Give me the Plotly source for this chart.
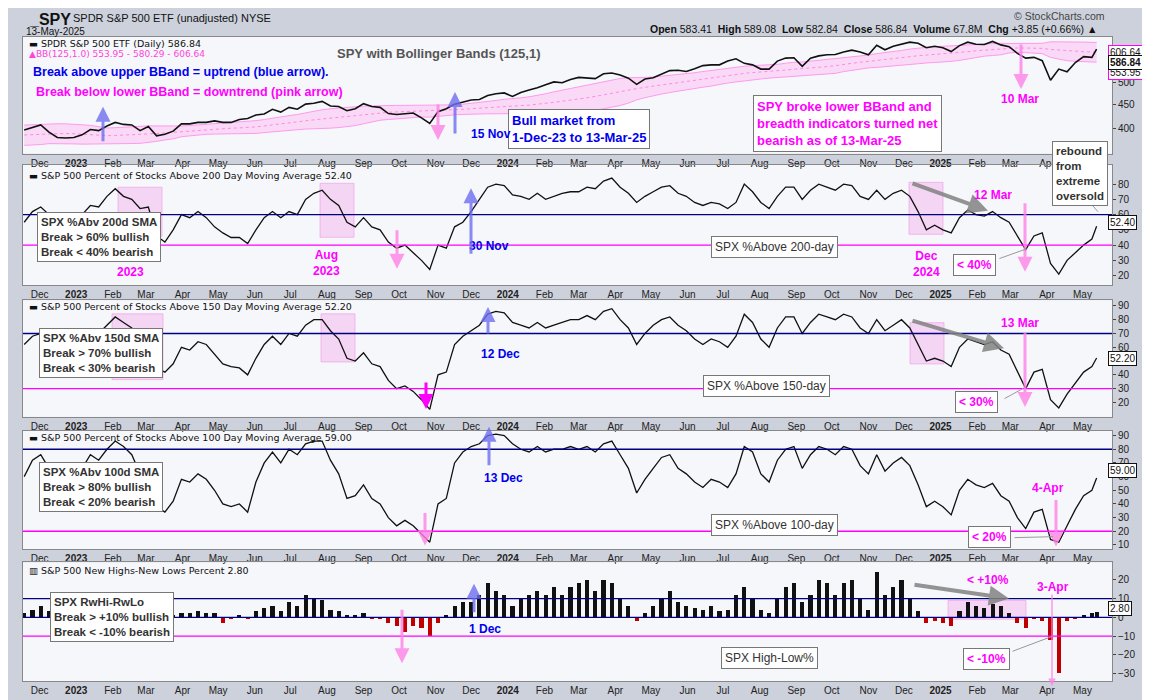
import pandas as pd
import plotly.graph_objects as go

# weekly closes, Nov-2022 .. 13-May-2025 (last point is the 13 May session)
dates = list(pd.date_range("2022-11-18", "2025-05-09", freq="W-FRI")) + [pd.Timestamp("2025-05-13")]

# SPY closes before the plotted window, only used to warm up the bands
spy_warmup = [390, 375, 366, 380, 385, 395, 412, 413, 429, 422, 405, 392,
              400, 385, 375, 358, 360, 367, 358, 374, 386, 378, 393, 398]
spy = [397, 402, 407, 393, 383, 382, 383,
       388, 398, 396, 405, 412, 408, 407, 396, 404, 386, 389, 395, 409,
       409, 412, 412, 415, 412, 412, 418, 420, 427, 429, 439, 433, 443,
       439, 450, 452, 456, 446, 445, 436, 440, 451, 445, 443, 430, 428,
       430, 431, 421, 410, 434, 440, 450, 455, 459, 460, 469, 473, 475,
       467, 476, 482, 487, 494, 501, 499, 507, 512, 511, 509, 521, 523,
       518, 510, 495, 508, 511, 520, 529, 530, 527, 534, 542, 544, 544,
       554, 560, 548, 544, 533, 533, 554, 562, 563, 540, 562, 568, 571,
       572, 579, 584, 579, 571, 598, 585, 595, 602, 607, 604, 591, 595,
       591, 580, 597, 607, 601, 600, 609, 599, 594, 575, 562, 564, 555,
       505, 533, 526, 550, 566, 564, 586.84]

pct200 = [55, 62, 65, 60, 52, 54, 55,
          60, 66, 65, 72, 77, 72, 70, 64, 65, 46, 42, 50, 60,
          58, 62, 58, 52, 48, 45, 45, 41, 50, 58, 62, 58, 62,
          60, 70, 74, 76, 70, 66, 55, 52, 58, 52, 50, 42, 38,
          40, 35, 30, 24, 40, 38, 52, 55, 62, 70, 78, 80, 79,
          73, 72, 70, 74, 70, 72, 74, 75, 75, 78, 77, 82, 84,
          78, 74, 68, 72, 75, 78, 79, 74, 72, 68, 66, 68, 67,
          64, 68, 80, 75, 68, 64, 72, 78, 78, 70, 76, 80, 78,
          76, 80, 79, 72, 70, 76, 70, 74, 76, 72, 62, 50, 53,
          50, 48, 58, 63, 60, 59, 62, 58, 55, 46, 37, 46, 48,
          28, 21, 30, 35, 40, 44, 52.4]

pct150 = [62, 68, 70, 62, 52, 55, 58,
          65, 72, 70, 76, 82, 78, 74, 64, 68, 45, 42, 48, 60,
          58, 64, 62, 55, 48, 46, 45, 40, 52, 62, 68, 62, 70,
          68, 76, 80, 80, 72, 66, 52, 50, 56, 48, 46, 36, 30,
          32, 28, 22, 15, 40, 42, 62, 68, 72, 76, 84, 86, 85,
          78, 76, 74, 78, 74, 76, 78, 80, 80, 83, 80, 86, 88,
          80, 74, 62, 70, 76, 80, 82, 76, 72, 66, 62, 66, 64,
          60, 68, 84, 78, 66, 60, 74, 82, 82, 70, 78, 84, 82,
          80, 84, 82, 74, 70, 80, 72, 76, 80, 74, 62, 50, 52,
          50, 46, 60, 66, 64, 62, 64, 58, 55, 42, 30, 42, 44,
          22, 16, 26, 34, 42, 46, 52.2]

pct100 = [60, 72, 76, 66, 50, 54, 56,
          66, 76, 72, 80, 86, 82, 76, 62, 66, 38, 34, 42, 58,
          56, 62, 58, 50, 40, 38, 40, 34, 56, 70, 78, 70, 80,
          76, 84, 86, 86, 72, 62, 44, 46, 54, 44, 40, 30, 24,
          28, 24, 18, 12, 40, 44, 70, 78, 82, 84, 90, 91, 90,
          84, 80, 78, 82, 78, 80, 80, 82, 80, 82, 78, 84, 86,
          76, 66, 48, 58, 66, 74, 76, 66, 62, 56, 52, 58, 56,
          52, 62, 82, 78, 62, 56, 72, 80, 82, 66, 76, 82, 80,
          76, 82, 80, 68, 62, 76, 64, 70, 74, 68, 54, 38, 42,
          38, 32, 50, 58, 54, 52, 55, 46, 42, 30, 22, 34, 36,
          14, 12, 24, 36, 46, 50, 59]

hilo = [2, 4, 6, 3, 1, 2, 1,
        2, 4, 3, 4, 6, 3, 3, -1, 1, -4, -2, 1, 2,
        2, 3, 2, 2, -3, -1, 1, -1, 3, 5, 6, 3, 8,
        6, 12, 10, 9, 4, 3, 1, 1, 2, -1, -1, -3, -5,
        -8, -5, -6, -10, -3, 1, 6, 8, 8, 12, 18, 14, 12,
        6, 10, 12, 14, 12, 16, 12, 16, 18, 20, 14, 20, 18,
        10, 6, -2, 2, 6, 10, 14, 8, 6, 5, 4, 6, 3,
        4, 12, 16, 10, 4, 2, 10, 16, 18, 8, 12, 20, 18,
        12, 18, 20, 10, 4, 24, 12, 16, 20, 10, 3, -3, -2,
        -3, -5, 3, 8, 6, 5, 7, 6, 2, -3, -6, -1, -2,
        -12, -30, -2, -1, 1, 2, 2.8]

for s in (spy, pct200, pct150, pct100, hilo):
    assert len(s) == len(dates), (len(s), len(dates))

# Bollinger Bands (125 days ~ 25 weeks, 1 std)
closes = pd.Series(spy_warmup + spy)
mid = closes.rolling(25).mean().iloc[len(spy_warmup):].values
sd = closes.rolling(25).std(ddof=0).iloc[len(spy_warmup):].values
upper = mid + sd
lower = mid - sd

# pixel helpers (plot area spans x 15..1104, y 29..685)
def P(x, y):
    return (x - 15) / 1089, (685 - y) / 656

panels = [(29, 148), (159, 282), (297, 416), (430, 551), (564, 685)]
yranges = [[2.549, 2.794], [13.6, 92.8], [9.5, 94.2], [6.7, 93.6], [-34, 29.4]]
ytickv = [[400, 450, 500], list(range(20, 90, 10)), list(range(20, 100, 10)),
          list(range(10, 100, 10)), [-30, -20, -10, 0, 10, 20]]

months = pd.date_range("2022-12-01", "2025-05-01", freq="MS")
ticktext = ["<b>%d</b>" % m.year if m.month == 1 else m.strftime("%b") for m in months]
xrange_ = ["2022-11-17", "2025-05-26"]

fig = go.Figure()
BLACK = "#111111"
MAG = "#ff00ff"
BLUE = "#0000ee"
NAVY = "#000080"

# panel 1
fig.add_trace(go.Scatter(x=dates, y=upper, mode="lines", line=dict(color="#ff99ee", width=1),
                         xaxis="x", yaxis="y", hoverinfo="skip"))
fig.add_trace(go.Scatter(x=dates, y=lower, mode="lines", line=dict(color="#ff99ee", width=1),
                         fill="tonexty", fillcolor="rgba(255,160,235,0.35)",
                         xaxis="x", yaxis="y", hoverinfo="skip"))
fig.add_trace(go.Scatter(x=dates, y=mid, mode="lines", line=dict(color="#ff88e8", width=1, dash="dot"),
                         xaxis="x", yaxis="y", hoverinfo="skip"))
fig.add_trace(go.Scatter(x=dates, y=spy, mode="lines", line=dict(color=BLACK, width=1.6),
                         xaxis="x", yaxis="y"))

for i, s in enumerate([pct200, pct150, pct100], start=2):
    fig.add_trace(go.Scatter(x=dates, y=s, mode="lines", line=dict(color=BLACK, width=1.3),
                             xaxis="x%d" % i, yaxis="y%d" % i))

fig.add_trace(go.Bar(x=dates, y=hilo, width=3.5 * 86400000,
                     marker=dict(color=["#c00000" if v < 0 else "#111111" for v in hilo], line_width=0),
                     xaxis="x5", yaxis="y5"))

layout = dict(
    width=1150, height=700, showlegend=False, bargap=0,
    paper_bgcolor="#cdd1dc", plot_bgcolor="#f6f7fb",
    margin=dict(l=15, r=46, t=29, b=15),
    font=dict(family="Liberation Sans, Arial", size=11, color="#222"),
)
for i, (top, bot) in enumerate(panels, start=1):
    d0 = (685 - bot) / 656
    d1 = (685 - top) / 656
    sx = "" if i == 1 else str(i)
    layout["xaxis" + sx] = dict(domain=[0, 1], anchor="y" + sx, range=xrange_, tickvals=months,
                                ticktext=ticktext, tickfont=dict(size=10), ticks="",
                                showgrid=False, showline=True, mirror=True,
                                linecolor="#888", zeroline=False)
    layout["yaxis" + sx] = dict(domain=[d0, d1], anchor="x" + sx, side="right", range=yranges[i - 1],
                                tickvals=ytickv[i - 1], tickfont=dict(size=10), showgrid=False,
                                showline=True, mirror=True, linecolor="#888", zeroline=False,
                                ticks="outside", ticklen=3)
layout["yaxis"]["type"] = "log"
fig.update_layout(**layout)

# threshold lines
for ax, navy, mag in [("2", [60], 40), ("3", [70], 30), ("4", [80], 20), ("5", [10, 0], -10)]:
    for v in navy:
        fig.add_shape(type="line", xref="x%s domain" % ax, yref="y" + ax, x0=0, x1=1, y0=v, y1=v,
                      line=dict(color=NAVY, width=1.3))
    fig.add_shape(type="line", xref="x%s domain" % ax, yref="y" + ax, x0=0, x1=1, y0=mag, y1=mag,
                  line=dict(color=MAG, width=1.3))

# highlight boxes
def rect(x0, y0, x1, y1):
    a0, b0 = P(x0, y0)
    a1, b1 = P(x1, y1)
    fig.add_shape(type="rect", xref="paper", yref="paper", x0=a0, x1=a1, y0=b1, y1=b0,
                  fillcolor="rgba(240,150,230,0.35)", line=dict(color="rgba(240,150,230,0.6)", width=1),
                  layer="below")

for r in [(110, 182, 154, 232), (312, 178, 346, 233), (901, 177, 935, 230),
          (104, 311, 155, 378), (313, 311, 347, 360), (902, 320, 936, 362),
          (940, 603, 1018, 622)]:
    rect(*r)

def note(x, y, text, color="#333", size=12, bold=True, box=False, xanchor="left", yanchor="middle",
         align="left", family=None):
    a, b = P(x, y)
    fig.add_annotation(x=a, y=b, xref="paper", yref="paper", text="<b>%s</b>" % text if bold else text,
                       showarrow=False, xanchor=xanchor, yanchor=yanchor, align=align,
                       font=dict(size=size, color=color, family=family),
                       bgcolor="white" if box else None, bordercolor="#777" if box else None,
                       borderwidth=1 if box else 0, borderpad=3)

def arrow(xh, yh, xt, yt, color, width=3, head=2, size=1.0):
    a, b = P(xh, yh)
    fig.add_annotation(x=a, y=b, xref="paper", yref="paper", ax=xt - xh, ay=yt - yh, text="",
                       showarrow=True, arrowhead=head, arrowsize=size, arrowwidth=width,
                       arrowcolor=color)

# header
note(18, 11, "_SPY", "#111", 16, xanchor="left")
note(62, 10, "SPDR S&P 500 ETF (unadjusted) NYSE", "#111", 11, bold=False)
note(15, 23, "13-May-2025", "#111", 10, bold=False)
note(1100, 8, "© StockCharts.com", "#444", 10.5, bold=False, xanchor="right")
note(1092, 21, "<b>Open</b> 583.41  <b>High</b> 589.08  <b>Low</b> 582.84  <b>Close</b> 586.84  "
     "<b>Volume</b> 67.8M  <b>Chg</b> +3.85 (+0.66%) ▲", "#111", 10.5, bold=False, xanchor="right")

# panel 1 notes
note(18, 36, "▬ SPDR S&P 500 ETF (Daily) 586.84", "#111", 9.5, bold=False, family="DejaVu Sans")
note(18, 46, "▲BB(125,1.0) 553.95 - 580.29 - 606.64", "#ff44dd", 9, bold=False, family="DejaVu Sans")
note(430, 46, "SPY with Bollinger Bands (125,1)", "#555", 13, xanchor="center")
note(22, 65, "Break above upper BBand = uptrend (blue arrow).", BLUE, 12.5)
note(25, 85, "Break below lower BBand = downtrend (pink arrow)", MAG, 12.5)
note(500, 123, "Bull market from<br>1-Dec-23 to 13-Mar-25", BLUE, 13, box=True)
note(745, 117, "SPY broke lower BBand and<br>breadth indicators turned net<br>bearish as of 13-Mar-25",
     MAG, 13, box=True)
note(460, 128, "15 Nov", BLUE, 12)
note(1012, 92, "10 Mar", MAG, 12, xanchor="center")
arrow(95, 100, 95, 136, "rgba(110,110,240,0.8)")
arrow(430, 134, 430, 97, "rgba(255,130,230,0.8)")
arrow(447, 85, 447, 128, "rgba(110,110,240,0.8)")
arrow(1013, 82, 1013, 36, "rgba(255,130,230,0.8)")

# panel 2 notes
note(18, 170, "▬ S&P 500 Percent of Stocks Above 200 Day Moving Average 52.40", "#111", 9.5,
     bold=False, family="DejaVu Sans")
note(122, 260, "Feb<br>2023", MAG, 12, xanchor="center", align="center")
note(29, 233, "SPX %Abv 200d SMA<br>Break > 60% bullish<br>Break < 40% bearish", "#333", 11.5, box=True)
note(318, 259, "Aug<br>2023", MAG, 12, xanchor="center", align="center")
note(458, 242, "30 Nov", BLUE, 12)
arrow(463, 183, 463, 250, "rgba(110,110,240,0.8)")
arrow(389, 265, 389, 225, "rgba(255,130,230,0.8)")
note(766, 243, "SPX %Above 200-day", "#333", 12, bold=False, box=True, xanchor="center")
note(918, 260, "Dec<br>2024", MAG, 12, xanchor="center", align="center")
arrow(980, 206, 903, 178, "rgba(130,130,130,0.85)", width=4)
note(985, 190, "12 Mar", MAG, 12, xanchor="center")
arrow(1017, 268, 1017, 198, "rgba(255,130,230,0.8)")
arrow(1018, 245, 990, 255, "#999", width=1, head=0)
note(945, 261, "< 40%", MAG, 12, box=True)
arrow(1090, 207, 1075, 190, "#999", width=1, head=0)
note(1044, 168, "rebound<br>from<br>extreme<br>oversold", "#333", 11.5, box=True)

# panel 3 notes
note(18, 304, "▬ S&P 500 Percent of Stocks Above 150 Day Moving Average 52.20", "#111", 9.5,
     bold=False, family="DejaVu Sans")
note(31, 351, "SPX %Abv 150d SMA<br>Break > 70% bullish<br>Break < 30% bearish", "#333", 11.5, box=True)
arrow(418, 408, 418, 380, MAG)
arrow(480, 304, 480, 332, "rgba(110,110,240,0.8)")
note(470, 352, "12 Dec", BLUE, 12)
note(758, 384, "SPX %Above 150-day", "#333", 12, bold=False, box=True, xanchor="center")
arrow(996, 346, 903, 318, "rgba(130,130,130,0.85)", width=4)
note(1012, 320, "13 Mar", MAG, 12, xanchor="center")
arrow(1017, 406, 1017, 330, "rgba(255,130,230,0.8)")
arrow(1015, 387, 995, 398, "#999", width=1, head=0)
note(947, 401, "< 30%", MAG, 12, box=True)

# panel 4 notes
note(18, 437, "▬ S&P 500 Percent of Stocks Above 100 Day Moving Average 59.00", "#111", 9.5,
     bold=False, family="DejaVu Sans")
note(31, 487, "SPX %Abv 100d SMA<br>Break > 80% bullish<br>Break < 20% bearish", "#333", 11.5, box=True)
arrow(417, 547, 417, 513, "rgba(255,130,230,0.8)")
arrow(481, 426, 481, 466, "rgba(110,110,240,0.8)")
note(473, 478, "13 Dec", BLUE, 12)
note(767, 526, "SPX %Above 100-day", "#333", 12, bold=False, box=True, xanchor="center")
note(1040, 488, "4-Apr", MAG, 12, xanchor="center")
arrow(1048, 548, 1048, 500, "rgba(255,130,230,0.8)")
arrow(1045, 538, 1005, 539, "#999", width=1, head=0)
note(960, 538, "< 20%", MAG, 12, box=True)

# panel 5 notes
note(18, 572, "▥ S&P 500 New Highs-New Lows Percent 2.80", "#111", 9.5, bold=False, family="DejaVu Sans")
note(42, 620, "SPX RwHi-RwLo<br>Break > +10% bullish<br>Break < -10% bearish", "#333", 11.5, box=True)
arrow(394, 667, 394, 612, "rgba(255,130,230,0.8)")
arrow(466, 586, 466, 616, "rgba(110,110,240,0.8)")
note(458, 632, "1 Dec", BLUE, 12)
note(761, 662, "SPX High-Low%", "#333", 12, bold=False, box=True, xanchor="center")
arrow(1001, 601, 905, 587, "rgba(130,130,130,0.85)", width=4)
note(980, 582, "< +10%", MAG, 12, xanchor="center")
note(1045, 589, "3-Apr", MAG, 12, xanchor="center")
arrow(1044, 690, 1044, 597, "rgba(255,130,230,0.8)", width=1.5)
arrow(1043, 640, 1003, 655, "#999", width=1, head=0)
note(955, 663, "< -10%", MAG, 12, box=True)

# last-value tags on the right axis
def tag(y, text, color, bold=False):
    a, b = P(1100, y)
    fig.add_annotation(x=a, y=b, xref="paper", yref="paper", text="<b>%s</b>" % text if bold else text,
                       showarrow=False, xanchor="left", font=dict(size=10, color="#111"),
                       bgcolor="white", bordercolor=color, borderwidth=1, borderpad=1)

tag(37, "606.64", MAG)
tag(58, "553.95", MAG)
tag(47, "586.84", "#111", bold=True)
tag(210, "52.40", "#111")
tag(356, "52.20", "#111")
tag(478, "59.00", "#111")
tag(619, "2.80", "#111")

fig.write_html("out.html")
